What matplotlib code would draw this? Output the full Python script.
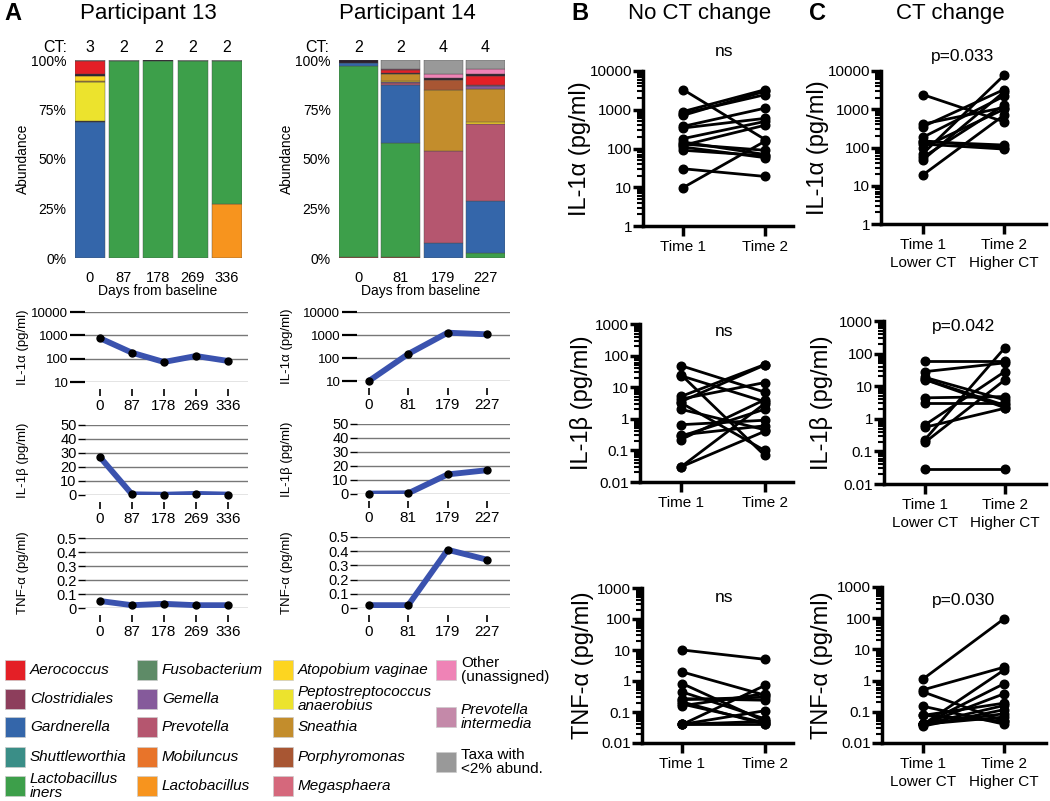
import numpy as np
import matplotlib
matplotlib.use("Agg")
import matplotlib.pyplot as plt
from matplotlib.patches import Rectangle
from matplotlib.ticker import LogLocator, NullFormatter, FuncFormatter

plt.rcParams['font.family'] = ['Liberation Sans', 'DejaVu Sans']

# ---- taxa / colours ----
taxa = ["Aerococcus", "Clostridiales", "Gardnerella", "Shuttleworthia", "Lactobacillus\niners",
        "Fusobacterium", "Gemella", "Prevotella", "Mobiluncus", "Lactobacillus",
        "Atopobium vaginae", "Peptostreptococcus\nanaerobius", "Sneathia", "Porphyromonas", "Megasphaera",
        "Other\n(unassigned)", "Prevotella\nintermedia", "Taxa with\n<2% abund."]
taxa_colors = ["#e41f26", "#8d3e5c", "#3466aa", "#3a8e87", "#3d9f4a",
               "#5e8b67", "#855a9b", "#b5566f", "#e8742a", "#f7941e",
               "#fdd520", "#ece32d", "#c38d2c", "#a85633", "#d5687c",
               "#ef83b6", "#c489a9", "#999999"]
dark_taxon = "unlabelled"
dark_color = "#2b1f2b"

# ---- panel A: relative abundance ----
p13_days = ["0", "87", "178", "269", "336"]
p13_ct = [3, 2, 2, 2, 2]
p13_bars = [
    [("Gardnerella", 68.5), (dark_taxon, 0.8), ("Peptostreptococcus\nanaerobius", 19.5), ("Sneathia", 0.5),
     ("Atopobium vaginae", 2.7), (dark_taxon, 0.8), ("Aerococcus", 6.7), ("Taxa with\n<2% abund.", 0.5)],
    [("Lactobacillus\niners", 99.6), ("Taxa with\n<2% abund.", 0.4)],
    [("Lactobacillus\niners", 99.5), (dark_taxon, 0.5)],
    [("Lactobacillus\niners", 99.6), ("Taxa with\n<2% abund.", 0.4)],
    [("Lactobacillus", 27.5), ("Lactobacillus\niners", 71.8), ("Taxa with\n<2% abund.", 0.7)],
]
p14_days = ["0", "81", "179", "227"]
p14_ct = [2, 2, 4, 4]
p14_bars = [
    [("Porphyromonas", 0.3), ("Lactobacillus\niners", 96.7), ("Gardnerella", 1.5), (dark_taxon, 1.5)],
    [("Porphyromonas", 0.5), ("Lactobacillus\niners", 57.5), ("Gardnerella", 29.5), ("Prevotella", 1.0),
     ("Gemella", 0.5), ("Atopobium vaginae", 0.5), ("Sneathia", 3.5), (dark_taxon, 0.5),
     ("Aerococcus", 1.5), ("Clostridiales", 0.5), ("Taxa with\n<2% abund.", 4.5)],
    [("Gardnerella", 7.4), ("Prevotella", 46.7), ("Sneathia", 31.0), ("Porphyromonas", 5.0),
     (dark_taxon, 1.0), ("Other\n(unassigned)", 2.0), ("Taxa with\n<2% abund.", 6.9)],
    [("Lactobacillus\niners", 2.4), ("Gardnerella", 26.5), ("Prevotella", 39.0), ("Atopobium vaginae", 1.0),
     ("Sneathia", 16.5), ("Gemella", 1.5), ("Clostridiales", 0.5), ("Aerococcus", 4.5),
     (dark_taxon, 1.0), ("Other\n(unassigned)", 2.5), ("Taxa with\n<2% abund.", 4.6)],
]

# ---- panel A: cytokines over time ----
p13_il1a = [750, 180, 72, 130, 80]
p13_il1b = [27, 0.5, 0.2, 0.8, 0.3]
p13_tnf = [0.05, 0.02, 0.03, 0.02, 0.02]
p14_il1a = [10, 150, 1260, 1070]
p14_il1b = [0.3, 0.5, 14, 17]
p14_tnf = [0.02, 0.02, 0.41, 0.34]

# ---- panel B: no CT change ----
b_il1a_t1 = [3300, 900, 800, 718, 373, 338, 180, 147, 121, 109, 90, 130, 30, 9.8]
b_il1a_t2 = [170, 3300, 2450, 3000, 1100, 600, 500, 70, 400, 58, 65, 90, 19, 155]
b_il1b_t1 = [48, 23, 25, 5.1, 4.2, 3.2, 2.0, 0.65, 0.31, 0.28, 0.22, 0.03, 0.03, 3.5]
b_il1b_t2 = [7, 3.5, 0.07, 52, 14, 0.1, 0.45, 0.9, 0.6, 2.0, 4.0, 0.4, 3.0, 50]
b_tnf_t1 = [10, 1.95, 0.82, 0.44, 0.27, 0.21, 0.16, 0.18, 0.04, 0.04, 0.04, 0.04, 0.25]
b_tnf_t2 = [5, 0.35, 0.05, 0.06, 0.24, 0.04, 0.39, 0.045, 0.72, 0.11, 0.05, 0.04, 0.3]

# ---- panel C: CT change ----
c_il1a_t1 = [2420, 409, 349, 184, 142, 123, 68, 55, 47, 19, 150, 100]
c_il1a_t2 = [470, 1110, 3270, 2190, 116, 91, 7700, 1280, 2840, 700, 100, 1000]
c_il1b_t1 = [59, 28, 18.7, 16.2, 4.4, 3.1, 0.65, 0.55, 0.23, 0.19, 0.029, 16]
c_il1b_t2 = [59, 52, 3.8, 2.6, 4.8, 3.1, 28, 2.1, 150, 15.5, 0.029, 2.2]
c_tnf_t1 = [1.15, 0.51, 0.43, 0.15, 0.077, 0.04, 0.04, 0.04, 0.04, 0.035, 0.04, 0.04, 0.077]
c_tnf_t2 = [97, 2.7, 0.05, 0.04, 0.19, 2.2, 0.8, 0.38, 0.16, 0.117, 0.087, 0.068, 0.05]

W, H = 1050, 801
fig = plt.figure(figsize=(W / 100, H / 100), dpi=100)
color_of = dict(zip(taxa, taxa_colors))
color_of[dark_taxon] = dark_color


def box(x0, y0, x1, y1):
    return fig.add_axes([x0 / W, 1 - y1 / H, (x1 - x0) / W, (y1 - y0) / H])


def label(x, y, s, **kw):
    kw.setdefault('ha', 'center')
    kw.setdefault('va', 'center')
    fig.text(x / W, 1 - y / H, s, **kw)


def ylabel_at(ax, x0, x1, xc, size):
    # ylabel anchor is the right edge of the rotated text
    ax.yaxis.set_label_coords((xc + size * 0.62 - x0) / (x1 - x0), 0.5)


# titles
label(13, 13, "A", fontsize=17, fontweight='bold')
label(148, 13, "Participant 13", fontsize=16)
label(407, 13, "Participant 14", fontsize=16)
label(580, 13, "B", fontsize=17, fontweight='bold')
label(700, 13, "No CT change", fontsize=16)
label(818, 13, "C", fontsize=17, fontweight='bold')
label(950, 13, "CT change", fontsize=16)


def abundance(x0, x1, bars, days, cts, width, ct_x, days_x, lab_x):
    ax = box(x0, 60, x1, 258)
    n = len(bars)
    for i, sample in enumerate(bars):
        bottom = 0
        for name, v in sample:
            ax.bar(i, v, bottom=bottom, width=width, color=color_of[name],
                   edgecolor='#4a4a4a', linewidth=0.3)
            bottom += v
    ax.set_xlim(-width / 2, n - 1 + width / 2)
    ax.set_ylim(0, 100)
    for s in ax.spines.values():
        s.set_visible(False)
    ax.set_yticks([0, 25, 50, 75, 100], ["0%", "25%", "50%", "75%", "100%"])
    ax.set_xticks(range(n), days)
    ax.tick_params(axis='y', length=0, pad=6, labelsize=10)
    ax.tick_params(axis='x', length=0, pad=9, labelsize=10.5)
    ax.set_ylabel("Abundance", fontsize=10)
    ylabel_at(ax, x0, x1, lab_x, 10)
    tr = ax.get_xaxis_transform()
    for i, c in enumerate(cts):
        ax.text(i, 1 + 12 / 198, str(c), transform=tr, ha='center', va='center', fontsize=11.5)
    label(ct_x, 48, "CT:", fontsize=11.5)
    label(days_x, 291, "Days from baseline", fontsize=10)


abundance(74.7, 242, p13_bars, p13_days, p13_ct, 0.87, 55, 158, 24)
abundance(339, 505, p14_bars, p14_days, p14_ct, 0.915, 317, 421, 288)

line_blue = "#3a52ae"


def timecourse(x0, x1, y0, y1, days, vals, kind, ylab, lab_x, xlim):
    ax = box(x0, y0, x1, y1)
    xs = np.arange(len(days))
    ax.plot(xs, vals, color=line_blue, lw=4.2, solid_capstyle='round', zorder=3)
    ax.plot(xs, vals, 'o', color='black', ms=5, zorder=4, clip_on=False)
    ax.set_xlim(*xlim)
    for s in ['top', 'right', 'left']:
        ax.spines[s].set_visible(False)
    ax.spines['bottom'].set_position(('outward', 5))
    ax.spines['bottom'].set_visible(False)
    ax.set_xticks(xs, days)
    ax.tick_params(axis='x', length=5, width=1.2, pad=2, labelsize=11)
    if kind == 'log':
        ax.set_yscale('log')
        ax.set_ylim(10, 10000)
        ax.set_yticks([10, 100, 1000, 10000])
        ax.yaxis.set_major_formatter(FuncFormatter(lambda v, p: f"{v:g}"))
        ax.yaxis.set_minor_locator(LogLocator(base=10, subs=np.arange(2, 10)))
        ax.yaxis.set_minor_formatter(NullFormatter())
        ax.tick_params(axis='y', which='major', length=11, width=1.6, pad=1, labelsize=9.5)
        ax.tick_params(axis='y', which='minor', length=5, width=1.3)
    elif kind == 'b':
        ax.set_ylim(0, 50)
        ax.set_yticks([0, 10, 20, 30, 40, 50])
        ax.tick_params(axis='y', length=5, width=1, pad=1, labelsize=10.5)
    else:
        ax.set_ylim(0, 0.5)
        ax.set_yticks([0, 0.1, 0.2, 0.3, 0.4, 0.5], ["0", "0.1", "0.2", "0.3", "0.4", "0.5"])
        ax.tick_params(axis='y', length=5, width=1, pad=1, labelsize=10.5)
    ax.yaxis.grid(True, which='major', color='#777777', lw=1.0)
    ax.set_axisbelow(True)
    ax.set_ylabel(ylab, fontsize=9.5)
    ylabel_at(ax, x0, x1, lab_x, 9.5)
    ax.patch.set_alpha(0)


p13_xlim = (-0.47, 4.63)
p14_xlim = (-0.3, 3.58)
timecourse(85, 248, 312, 382, p13_days, p13_il1a, 'log', "IL-1α (pg/ml)", 23, p13_xlim)
timecourse(85, 248, 425, 495, p13_days, p13_il1b, 'b', "IL-1β (pg/ml)", 23, p13_xlim)
timecourse(85, 248, 538, 608, p13_days, p13_tnf, 't', "TNF-α (pg/ml)", 23, p13_xlim)
timecourse(357, 510, 312, 381, p14_days, p14_il1a, 'log', "IL-1α (pg/ml)", 287, p14_xlim)
timecourse(357, 510, 424, 494, p14_days, p14_il1b, 'b', "IL-1β (pg/ml)", 287, p14_xlim)
timecourse(357, 510, 537, 608, p14_days, p14_tnf, 't', "TNF-α (pg/ml)", 287, p14_xlim)


def paired(x0, y0, x1, y1, t1, t2, lo, hi, ylab, lab_x, xlabels, xlim, note, note_xy):
    ax = box(x0, y0, x1, y1)
    for a, b in zip(t1, t2):
        ax.plot([0, 1], [a, b], color='black', lw=2, marker='o', ms=6.2, clip_on=False)
    ax.set_yscale('log')
    ax.set_ylim(lo, hi)
    ax.set_xlim(*xlim)
    for s in ['top', 'right']:
        ax.spines[s].set_visible(False)
    for s in ['left', 'bottom']:
        ax.spines[s].set_linewidth(2.5)
    decades = [10.0 ** k for k in range(int(np.log10(lo)), int(np.log10(hi)) + 1)]
    ax.set_yticks(decades)
    ax.yaxis.set_major_formatter(FuncFormatter(lambda v, p: f"{v:g}"))
    ax.yaxis.set_minor_locator(LogLocator(base=10, subs=np.arange(2, 10)))
    ax.yaxis.set_minor_formatter(NullFormatter())
    ax.tick_params(axis='y', which='major', length=7, width=2.5, pad=1, labelsize=11)
    ax.tick_params(axis='y', which='minor', length=4, width=1.5)
    ax.set_xticks([0, 1], xlabels)
    ax.tick_params(axis='x', length=7, width=2.5, pad=3, labelsize=11)
    for t in ax.get_xticklabels():
        t.set_linespacing(1.35)
    ax.set_ylabel(ylab, fontsize=17)
    ylabel_at(ax, x0, x1, lab_x, 17)
    label(note_xy[0], note_xy[1], note, fontsize=12.5)


b_lim = (-0.49, 1.34)
c_lim = (-0.513, 1.517)
b_labs = ["Time 1", "Time 2"]
c_labs = ["Time 1\nLower CT", "Time 2\nHigher CT"]
paired(643, 71, 793, 226, b_il1a_t1, b_il1a_t2, 1, 10000, "IL-1α (pg/ml)", 580, b_labs, b_lim, "ns", (724, 52))
paired(640, 324, 793, 482, b_il1b_t1, b_il1b_t2, 0.01, 1000, "IL-1β (pg/ml)", 582, b_labs, b_lim, "ns", (724, 331))
paired(642, 588, 793, 743, b_tnf_t1, b_tnf_t2, 0.01, 1000, "TNF-α (pg/ml)", 583, b_labs, b_lim, "ns", (724, 597))
paired(881, 71, 1046, 224, c_il1a_t1, c_il1a_t2, 1, 10000, "IL-1α (pg/ml)", 818, c_labs, c_lim, "p=0.033", (963, 57))
paired(884, 321, 1046, 484, c_il1b_t1, c_il1b_t2, 0.01, 1000, "IL-1β (pg/ml)", 822, c_labs, c_lim, "p=0.042", (964, 327))
paired(882, 587, 1046, 743, c_tnf_t1, c_tnf_t2, 0.01, 1000, "TNF-α (pg/ml)", 822, c_labs, c_lim, "p=0.030", (964, 600))

# ---- legend ----
leg = box(0, 645, 530, 801)
leg.set_xlim(0, 530)
leg.set_ylim(801, 645)
leg.axis('off')
col_x = [5, 137, 273, 436]
rows_main = [670, 699, 727, 757, 786]
rows_last = [670, 717, 762]
plain = {"Other\n(unassigned)", "Taxa with\n<2% abund."}
for k, name in enumerate(taxa):
    col = min(k // 5, 3)
    yc = rows_main[k % 5] if col < 3 else rows_last[k - 15]
    x = col_x[col]
    leg.add_patch(Rectangle((x, yc - 10), 20, 20, facecolor=color_of[name],
                            edgecolor='#cccccc', lw=0.5))
    leg.text(x + 25, yc, name, va='center', ha='left', fontsize=11, linespacing=0.95,
             style='normal' if name in plain else 'italic')

fig.savefig("out.png", dpi=100)
